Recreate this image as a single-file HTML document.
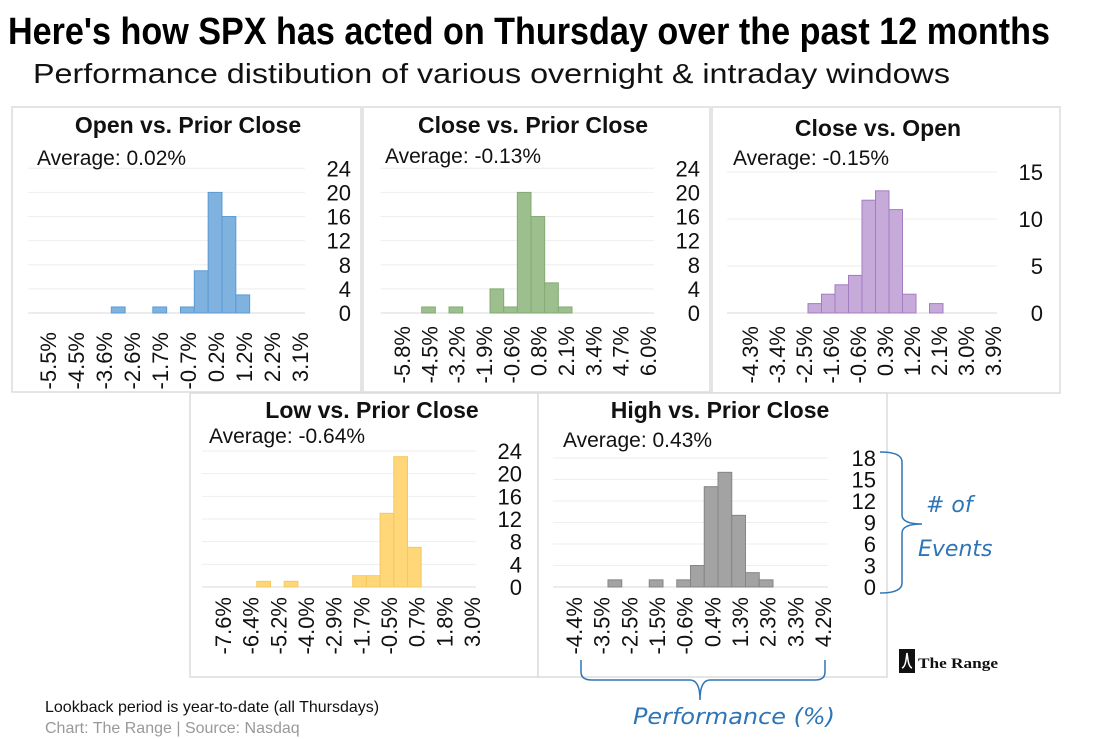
<!DOCTYPE html>
<html><head><meta charset="utf-8">
<style>
html,body{margin:0;padding:0;background:#fff;}
svg{display:block;font-family:"Liberation Sans",Arial,sans-serif;}
</style></head>
<body>
<svg id="chart" width="1101" height="739" viewBox="0 0 1101 739" xmlns="http://www.w3.org/2000/svg">
  <text x="8" y="44" font-family="'Liberation Sans Narrow','Liberation Sans',sans-serif" font-weight="bold" font-size="38" textLength="1042" lengthAdjust="spacingAndGlyphs" fill="#000">Here's how SPX has acted on Thursday over the past 12 months</text>
  <text x="33" y="83" font-size="28" textLength="917" lengthAdjust="spacingAndGlyphs" fill="#111">Performance distibution of various overnight &amp; intraday windows</text>
  <g id="panels"></g>

  <g>
    <path d="M880,452 Q902,452 902,462 L902,515 Q902,524 922,524 Q902,524 902,533 L902,583 Q902,593 880,593" fill="none" stroke="#2e75b6" stroke-width="1.5"/>
    <text x="926" y="512" font-size="22" font-style="italic" fill="#2e75b6" font-family="'DejaVu Sans',sans-serif"># of</text>
    <text x="918" y="556" font-size="22" font-style="italic" fill="#2e75b6" font-family="'DejaVu Sans',sans-serif">Events</text>
  </g>
  <g>
    <path d="M581,660 L581,672 Q581,680 592,680 L690,680 Q700,680 700,700 Q700,680 710,680 L815,680 Q825,680 825,672 L825,660" fill="none" stroke="#2e75b6" stroke-width="1.5"/>
    <text x="633" y="724" font-size="22" font-style="italic" fill="#2e75b6" font-family="'DejaVu Sans',sans-serif" textLength="202" lengthAdjust="spacingAndGlyphs">Performance (%)</text>
  </g>
  <g>
    <rect x="899" y="649" width="16" height="24" fill="#111"/>
    <path d="M902,668 Q905,667 906,660 L907,653 L908,660 Q909,667 912,668" fill="none" stroke="#fff" stroke-width="1.5"/>
    <text x="918" y="668" font-family="'Liberation Serif',serif" font-weight="bold" font-size="15" textLength="80" lengthAdjust="spacingAndGlyphs" fill="#111">The Range</text>
  </g>
  <text x="45" y="712" font-size="16" fill="#111">Lookback period is year-to-date (all Thursdays)</text>
  <text x="45" y="733" font-size="16" fill="#999">Chart: The Range | Source: Nasdaq</text>
</svg>
<script>
// ---- data ----
const titles = ["Open vs. Prior Close","Close vs. Prior Close","Close vs. Open","Low vs. Prior Close","High vs. Prior Close"];
const averages = ["0.02%","-0.13%","-0.15%","-0.64%","0.43%"];
const counts1 = [0,0,0,0,0,0,1,0,0,1,0,1,7,20,16,3,0,0,0,0];
const counts2 = [0,0,0,1,0,1,0,0,4,1,20,16,5,1,0,0,0,0,0,0];
const counts3 = [0,0,0,0,0,0,1,2,3,4,12,13,11,2,0,1,0,0,0,0];
const counts4 = [0,0,0,0,1,0,1,0,0,0,0,2,2,13,23,7,0,0,0,0];
const counts5 = [0,0,0,0,1,0,0,1,0,1,3,14,16,10,2,1,0,0,0,0];
const xLabels1 = ["-5.5%","-4.5%","-3.6%","-2.6%","-1.7%","-0.7%","0.2%","1.2%","2.2%","3.1%"];
const xLabels2 = ["-5.8%","-4.5%","-3.2%","-1.9%","-0.6%","0.8%","2.1%","3.4%","4.7%","6.0%"];
const xLabels3 = ["-4.3%","-3.4%","-2.5%","-1.6%","-0.6%","0.3%","1.2%","2.1%","3.0%","3.9%"];
const xLabels4 = ["-7.6%","-6.4%","-5.2%","-4.0%","-2.9%","-1.7%","-0.5%","0.7%","1.8%","3.0%"];
const xLabels5 = ["-4.4%","-3.5%","-2.5%","-1.5%","-0.6%","0.4%","1.3%","2.3%","3.3%","4.2%"];
const yTicks1 = [0,4,8,12,16,20,24];
const yTicks2 = [0,4,8,12,16,20,24];
const yTicks3 = [0,5,10,15];
const yTicks4 = [0,4,8,12,16,20,24];
const yTicks5 = [0,3,6,9,12,15,18];

// ---- layout ----
const layouts = [
 {box:[12,107,349,285], L:28.3,R:305,base:313,top:168.3,lx0:48,lx1:300,ly:332,yr:351,tx:188,ty:133,ax:37,ay:165,fill:"#7fb2de",stroke:"#5b9bd5",counts:counts1,labels:xLabels1,ticks:yTicks1},
 {box:[363,107,347,285], L:380.7,R:654,base:313,top:168.3,lx0:402,lx1:648,ly:326,yr:700,tx:533,ty:133,ax:385,ay:163,fill:"#9dbf8e",stroke:"#84aa72",counts:counts2,labels:xLabels2,ticks:yTicks2},
 {box:[712,107,348,286], L:727,R:997,base:313,top:172,lx0:750,lx1:993,ly:326,yr:1043,tx:878,ty:136,ax:733,ay:165,fill:"#c6aad9",stroke:"#a47cc0",counts:counts3,labels:xLabels3,ticks:yTicks3},
 {box:[190,393,348,284], L:202,R:476,base:587,top:451,lx0:223,lx1:472,ly:597,yr:522,tx:372,ty:418,ax:209,ay:443,fill:"#ffd778",stroke:"#f5c95e",counts:counts4,labels:xLabels4,ticks:yTicks4},
 {box:[538,393,349,284], L:553,R:828,base:587,top:458,lx0:574,lx1:823,ly:597,yr:876,tx:720,ty:418,ax:563,ay:447,fill:"#a3a3a3",stroke:"#858585",counts:counts5,labels:xLabels5,ticks:yTicks5}
];
const NS="http://www.w3.org/2000/svg";
function mk(tag,attrs,parent){const e=document.createElementNS(NS,tag);for(const k in attrs)e.setAttribute(k,attrs[k]);parent.appendChild(e);return e;}
const root=document.getElementById('panels');
layouts.forEach((c,i)=>{
  const g=mk('g',{},root);
  
  
  const bx=mk('rect',{x:c.box[0],y:c.box[1],width:c.box[2],height:c.box[3],fill:"#fff",stroke:"#dcdcdc","stroke-width":1.5},g);
  
  
  const yMax=c.ticks[c.ticks.length-1];
  const yS=v=>c.base-(v/yMax)*(c.base-c.top);
  const n=c.counts.length, bw=(c.R-c.L)/n;
  const xS=k=>c.L+k*bw;
  c.ticks.forEach(t=>{
    const ln=mk('line',{x1:c.L,x2:c.R,y1:yS(t),y2:yS(t),stroke:t===0?"#d9d9d9":"#eeeeee","stroke-width":1},g);
    
    
    const tl=mk('text',{x:c.yr,y:yS(t)+8,"text-anchor":"end","font-size":22,fill:"#111"},g);
    tl.textContent=t;
    
    
  });
  c.counts.forEach((v,k)=>{
    if(v<=0)return;
    const r=mk('rect',{x:xS(k),y:yS(v),width:bw,height:c.base-yS(v),fill:c.fill,stroke:c.stroke,"stroke-width":1},g);
    
    
  });
  const m=c.labels.length;
  c.labels.forEach((s,k)=>{
    const x=c.lx0+k*(c.lx1-c.lx0)/(m-1);
    const t=mk('text',{transform:`translate(${x+8},${c.ly}) rotate(-90)`,"text-anchor":"end","font-size":22,fill:"#111"},g);
    t.textContent=s;
    
    
  });
  const tt=mk('text',{x:c.tx,y:c.ty,"text-anchor":"middle","font-size":23,"font-weight":"bold",fill:"#111"},g);
  tt.textContent=titles[i];
  
  
  const av=mk('text',{x:c.ax,y:c.ay,"font-size":21,fill:"#111"},g);
  av.textContent="Average: "+averages[i];
  
  
});
</script>
</body></html>
